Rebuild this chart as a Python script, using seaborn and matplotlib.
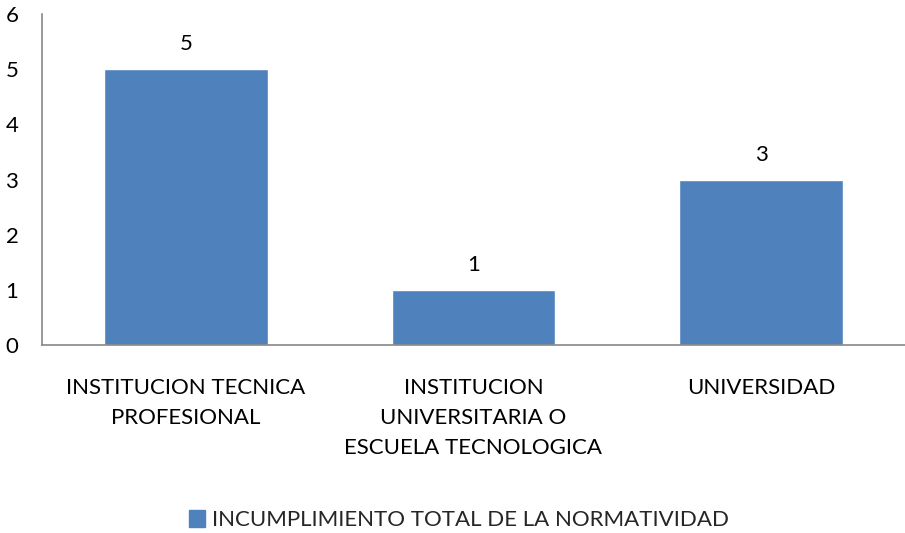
import matplotlib
matplotlib.use('Agg')
import matplotlib.pyplot as plt
import seaborn as sns
import pandas as pd

categories = ['INSTITUCION TECNICA\nPROFESIONAL',
              'INSTITUCION\nUNIVERSITARIA O\nESCUELA TECNOLOGICA',
              'UNIVERSIDAD']
values = [5, 1, 3]
serie = 'INCUMPLIMIENTO TOTAL DE LA NORMATIVIDAD'

df = pd.DataFrame({'categoria': categories, 'valor': values, 'serie': serie})

sns.set_style('white')
plt.rcParams['font.family'] = ['Lato', 'DejaVu Sans']

fig = plt.figure(figsize=(9.05, 5.33), dpi=100)
ax = fig.add_axes([0.0464, 0.3527, 0.9536, 0.621])

sns.barplot(data=df, x='categoria', y='valor', hue='serie', palette=['#4F81BD'],
            width=0.57, saturation=1, ax=ax, legend=False)

for i, v in enumerate(values):
    ax.text(i, v + 0.27, str(v), ha='center', va='bottom', fontsize=16, color='#000000')

ax.set_ylim(0, 6)
ax.set_xlim(-0.5, 2.5)
ax.set_yticks(range(0, 7))
ax.set_xlabel('')
ax.set_ylabel('')
ax.tick_params(axis='both', length=0, labelsize=16, colors='#000000')
ax.tick_params(axis='x', pad=24)
ax.tick_params(axis='y', pad=17)
for lbl in ax.get_xticklabels():
    lbl.set_linespacing(1.6)
for s in ['top', 'right']:
    ax.spines[s].set_visible(False)
for s in ['left', 'bottom']:
    ax.spines[s].set_color('#888888')
    ax.spines[s].set_linewidth(1.2)

handle = plt.Rectangle((0, 0), 1, 1, color='#4F81BD')
fig.legend([handle], [serie], loc='center', bbox_to_anchor=(0.507, 0.024),
           frameon=False, fontsize=16, handlelength=0.75, handleheight=0.75,
           handletextpad=0.3)

fig.savefig('out.png', dpi=100)
